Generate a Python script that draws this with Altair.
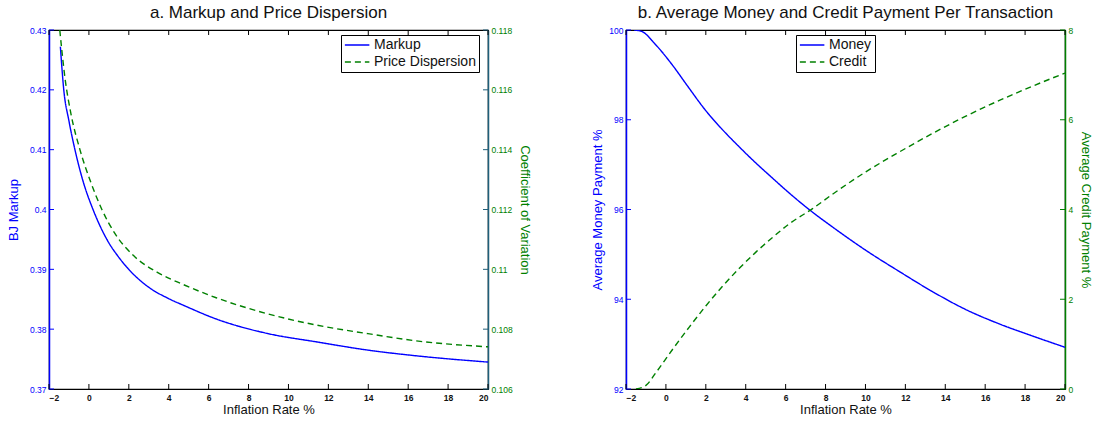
import altair as alt
import pandas as pd

# ---- panel a: markup and price dispersion vs inflation ----
markup_x = [-1.43, -1.26, -1.0, -0.70, -0.30, 0.23, 0.90, 1.50, 2.08, 3.0, 4.0, 4.80, 6.38, 8.92, 11.45, 13.98, 16.51, 20.0]
markup_y = [0.4272, 0.4200, 0.4148, 0.4100, 0.4048, 0.3998, 0.3950, 0.3920, 0.3897, 0.3870, 0.3851, 0.3839, 0.3817, 0.3793, 0.37785, 0.3765, 0.37551, 0.3745]

disp_x = [-1.46, -1.20, -0.90, -0.45, 0.10, 0.65, 1.30, 2.25, 3.43, 4.70, 6.38, 8.92, 11.45, 13.98, 16.51, 20.0]
disp_y = [0.1180, 0.1164, 0.1152, 0.1140, 0.1129, 0.1120, 0.1112, 0.11045, 0.10990, 0.10950, 0.10905, 0.10852, 0.10813, 0.10785, 0.10760, 0.10741]

# ---- panel b: money and credit share of payment per transaction ----
money_x = [-1.60, -1.22, -0.55, 0.29, 1.12, 1.95, 2.79, 3.62, 4.45, 5.29, 6.12, 7.29, 8.35, 10.02, 11.69, 13.36, 15.03, 16.71, 18.38, 20.0]
money_y = [100.0, 99.97, 99.69, 99.24, 98.73, 98.23, 97.80, 97.42, 97.06, 96.72, 96.39, 95.96, 95.61, 95.09, 94.62, 94.17, 93.77, 93.45, 93.18, 92.93]

credit_x = [-1.50, -1.00, -0.51, 0.33, 1.17, 2.00, 2.84, 3.68, 4.51, 5.35, 6.18, 7.35, 8.35, 10.02, 11.69, 13.38, 15.03, 16.71, 18.38, 20.0]
credit_y = [0.0, 0.08, 0.36, 0.88, 1.38, 1.85, 2.29, 2.69, 3.05, 3.38, 3.68, 4.02, 4.34, 4.84, 5.28, 5.70, 6.08, 6.43, 6.75, 7.04]

# ---- tick positions ----
x_ticks = [-2, 0, 2, 4, 6, 8, 10, 12, 14, 16, 18, 20]
markup_ticks = [0.37, 0.38, 0.39, 0.40, 0.41, 0.42, 0.43]
disp_ticks = [0.106, 0.108, 0.110, 0.112, 0.114, 0.116, 0.118]
money_ticks = [92, 94, 96, 98, 100]
credit_ticks = [0, 2, 4, 6, 8]

BLUE = "#0000ff"
GREEN = "#008000"
TEAL = "#1f5f7a"
FONT = "Liberation Sans"
W, H = 439, 359
TICK = 5


def x_enc():
    return alt.X(
        "x:Q",
        scale=alt.Scale(domain=[-2, 20], nice=False, zero=False),
        axis=alt.Axis(values=x_ticks, ticks=False, grid=False, format="~r",
                      title="Inflation Rate %", titleFontSize=13, titleFontWeight="normal",
                      titleFont=FONT, titleColor="#111111", titlePadding=2,
                      labelFont=FONT, labelFontSize=8.5, labelFontWeight="bold",
                      labelColor="#111111", labelPadding=4, domainColor="black",
                      domainWidth=1.2),
    )


def y_enc(domain, ticks, title, color, orient, domain_color, title_pad):
    return alt.Y(
        "v:Q",
        scale=alt.Scale(domain=domain, nice=False, zero=False),
        axis=alt.Axis(values=ticks, orient=orient, ticks=False, grid=False, format="~r",
                      title=title, titleColor=color, titleFont=FONT, titleFontSize=13,
                      titleFontWeight="normal", titlePadding=title_pad,
                      labelColor=color, labelFont=FONT, labelFontSize=8.5, labelPadding=3,
                      domainColor=domain_color, domainWidth=1.5),
    )


def series_df(xs, ys, name):
    return pd.DataFrame({"x": xs, "v": ys, "series": name})


def panel(title, left, right, legend_x):
    # each side: (xs, ys, name, domain, ticks, axis title, axis colour, title pad)
    names = [left[2], right[2]]
    legend = alt.Legend(orient="none", legendX=legend_x, legendY=5, direction="vertical",
                        title=None, symbolType="M-1,0L3,0", symbolSize=150,
                        symbolStrokeWidth=1.5, labelFont=FONT, labelFontSize=14,
                        labelColor="#111111", strokeColor="black", fillColor="white",
                        padding=3, rowPadding=3, labelOffset=16, labelLimit=300)
    color = alt.Color("series:N", scale=alt.Scale(domain=names, range=[BLUE, GREEN]),
                      legend=legend)
    dash = alt.StrokeDash("series:N", scale=alt.Scale(domain=names, range=[[1, 0], [6, 4]]),
                          legend=legend)

    ly = y_enc(left[3], left[4], left[5], BLUE, "left", left[6], left[7])
    ry = y_enc(right[3], right[4], right[5], GREEN, "right", right[6], right[7])

    left_line = alt.Chart(series_df(left[0], left[1], left[2])).mark_line(
        strokeWidth=1.4, interpolate="monotone", clip=True
    ).encode(x=x_enc(), y=ly, color=color, strokeDash=dash)

    xt = pd.DataFrame({"x": x_ticks})
    bottom_ticks = alt.Chart(xt).mark_rule(color="black", strokeWidth=1).encode(
        x=x_enc(), y=alt.value(H - TICK), y2=alt.value(H))
    top_ticks = alt.Chart(xt).mark_rule(color="black", strokeWidth=1).encode(
        x=x_enc(), y=alt.value(0), y2=alt.value(TICK))
    left_ticks = alt.Chart(pd.DataFrame({"v": left[4]})).mark_rule(
        color=left[6], strokeWidth=1).encode(y=ly, x=alt.value(0), x2=alt.value(TICK))

    right_line = alt.Chart(series_df(right[0], right[1], right[2])).mark_line(
        strokeWidth=1.4, interpolate="monotone", clip=True
    ).encode(x=x_enc(), y=ry, color=color, strokeDash=dash)
    right_ticks = alt.Chart(pd.DataFrame({"v": right[4]})).mark_rule(
        color=right[6], strokeWidth=1).encode(y=ry, x=alt.value(W - TICK), x2=alt.value(W))

    a = alt.layer(left_line, left_ticks, bottom_ticks, top_ticks)
    b = alt.layer(right_line, right_ticks)
    return alt.layer(a, b).resolve_scale(y="independent").properties(
        width=W, height=H,
        title=alt.TitleParams(title, font=FONT, fontSize=17, fontWeight="normal",
                              color="#111111", anchor="middle", offset=4),
    )


panel_a = panel(
    "a. Markup and Price Dispersion",
    (markup_x, markup_y, "Markup", [0.37, 0.43], markup_ticks, "BJ Markup", BLUE, 9),
    (disp_x, disp_y, "Price Dispersion", [0.106, 0.118], disp_ticks,
     "Coefficient of Variation", TEAL, 5),
    292,
)

panel_b = panel(
    "b. Average Money and Credit Payment Per Transaction",
    (money_x, money_y, "Money", [92, 100], money_ticks, "Average Money Payment %", BLUE, 4),
    (credit_x, credit_y, "Credit", [0, 8], credit_ticks, "Average Credit Payment %", GREEN, 6),
    170,
)

chart = (
    alt.hconcat(panel_a, panel_b, spacing=60)
    .resolve_scale(color="independent", strokeDash="independent")
    .resolve_legend(color="independent", strokeDash="independent")
    .properties(padding={"left": 6, "top": 3, "right": 2, "bottom": 2}, background="white")
    .configure_view(stroke="black", strokeWidth=1.2)
)

chart.save("out.html", embed_options={"renderer": "svg", "actions": False})
